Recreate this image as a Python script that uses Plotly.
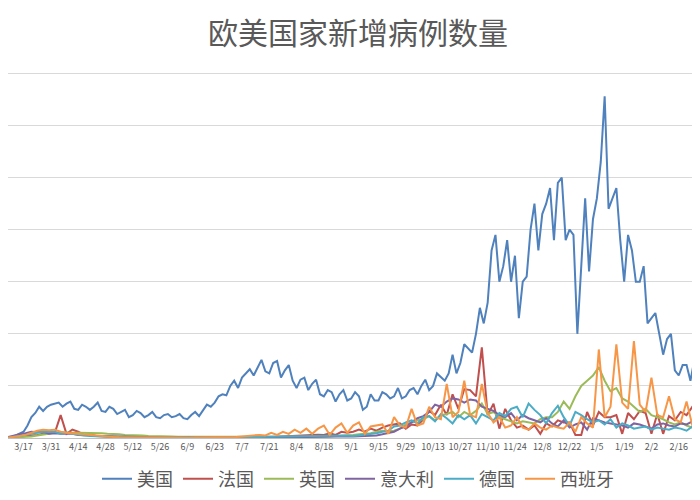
import pandas as pd
import plotly.graph_objects as go

# daily new cases, thousands; US sampled every 2 days, others every 3 days from 2020-03-09
us = [0.5, 1, 2.5, 4, 6, 12, 20, 24, 30, 26, 30, 32, 33, 34, 30, 33, 35, 28, 27, 32, 30, 27, 30, 34, 26, 25, 30, 28,
      23, 25, 27, 20, 22, 26, 24, 20, 22, 25, 20, 19, 22, 23, 20, 21, 23, 19, 18, 22, 25, 21, 26, 32, 30, 34, 40, 42,
      41, 50, 55, 48, 58, 62, 66, 60, 68, 75, 64, 62, 72, 74, 58, 65, 70, 55, 48, 56, 58, 46, 52, 56, 42, 40, 46, 44,
      35, 42, 46, 36, 38, 44, 40, 27, 30, 42, 36, 36, 44, 42, 38, 40, 48, 38, 40, 46, 48, 42, 50, 56, 46, 50, 62, 58,
      55, 62, 80, 62, 72, 90, 86, 82, 100, 125, 110, 130, 180, 195, 150, 165, 190, 150, 175, 115, 150, 155, 200, 225,
      180, 215, 225, 240, 190, 245, 250, 190, 200, 195, 100, 170, 230, 160, 210, 230, 265, 328, 220, 230, 240, 190,
      150, 195, 180, 150, 150, 165, 110, 115, 120, 100, 80, 95, 100, 65, 60, 70, 70, 55, 75, 75, 55, 50]
france = [0.3, 0.8, 1.2, 1.5, 1.8, 3, 4, 4.5, 5, 22, 4, 8, 6, 3, 3, 2, 2, 1.5, 1, 1, 1, 0.5, 0.8, 0.5, 0.5, 0.3, 0.5,
          1, 0.5, 0.6, 0.5, 0.5, 0.5, 0.4, 0.5, 0.5, 0.6, 0.5, 0.5, 0.6, 0.5, 0.7, 0.6, 0.8, 0.9, 1, 1.1, 1.3, 1.5, 1.6,
          2, 2.5, 2.8, 3.2, 3, 4.5, 3, 6, 5, 6, 8, 6, 9, 7, 10, 12, 13, 14, 9, 13, 12, 18, 26, 22, 32, 22, 42, 28, 47,
          46, 40, 87, 22, 33, 9, 28, 17, 10, 12, 8, 12, 4, 14, 11, 17, 15, 15, 3, 3, 25, 12, 25, 20, 20, 22, 4, 24, 18,
          26, 24, 4, 23, 4, 21, 17, 25, 22, 30, 25, 5]
uk = [0.1, 0.3, 0.5, 1, 1.5, 2.5, 3.5, 4.5, 5, 5.5, 5, 5, 5, 5, 4.5, 5, 4.5, 4, 4, 3.5, 3, 3, 2.5, 2.5, 2, 2, 1.7, 1.5,
      1.5, 1.2, 1.2, 1, 1, 0.9, 0.8, 0.8, 0.7, 0.7, 0.6, 0.6, 0.7, 0.6, 0.6, 0.7, 0.8, 0.8, 0.8, 0.9, 1, 1, 1, 1.2, 1.1,
      1.2, 1.3, 1.5, 1.7, 2, 2.5, 3, 3.5, 4, 4.5, 6, 7, 6.5, 7, 9, 13, 15, 17, 18, 21, 17, 22, 23, 25, 20, 25, 22, 26,
      33, 23, 25, 20, 18, 16, 14, 16, 15, 14, 18, 20, 20, 25, 35, 28, 40, 50, 55, 60, 68, 55, 45, 48, 38, 35, 30, 25,
      28, 22, 20, 18, 15, 13, 15, 12, 10, 9, 8]
italy = [1, 2.5, 3.5, 4.5, 6, 5.5, 6, 4, 4.5, 4, 4, 4, 3, 3, 2.7, 2.2, 2, 1.8, 1.4, 1.2, 1, 0.8, 0.7, 0.6, 0.5, 0.4,
         0.4, 0.3, 0.3, 0.3, 0.3, 0.2, 0.2, 0.2, 0.2, 0.2, 0.2, 0.2, 0.2, 0.2, 0.2, 0.3, 0.3, 0.3, 0.3, 0.4, 0.4, 0.4,
         0.5, 0.6, 0.8, 1, 1.2, 1.3, 1.4, 1.5, 1.5, 1.6, 1.7, 1.5, 1.6, 1.8, 2, 2.5, 3.5, 4.5, 6, 9, 11, 15, 19, 21,
         25, 32, 30, 35, 38, 37, 34, 37, 36, 30, 28, 26, 22, 20, 24, 17, 22, 19, 17, 15, 19, 14, 11, 17, 10, 13, 15, 8,
         19, 17, 15, 14, 13, 12, 10, 14, 13, 11, 9, 13, 14, 12, 11, 14, 13, 16, 20, 17]
germany = [0.5, 1, 2, 3, 4, 5, 6, 6, 6, 4, 5, 4, 3, 2.5, 2, 1.5, 1.5, 1.2, 1, 0.8, 0.8, 0.6, 0.6, 0.5, 0.4, 0.4, 0.4,
           0.3, 0.4, 0.5, 0.6, 0.5, 0.4, 0.4, 0.4, 0.4, 0.4, 0.5, 0.5, 0.6, 0.7, 0.8, 0.9, 1, 1.2, 1.3, 1.5, 1.4, 1.5,
           1.3, 1.5, 1.6, 1.8, 1.5, 1.8, 2, 2.2, 2, 2.5, 2, 2.5, 3, 4, 4.5, 6, 7, 11, 12, 15, 17, 14, 20, 21, 16, 23,
           19, 14, 22, 18, 22, 14, 23, 20, 17, 24, 21, 28, 30, 20, 33, 27, 22, 14, 24, 31, 20, 12, 25, 22, 18, 15, 17,
           13, 18, 10, 14, 12, 9, 10, 11, 8, 10, 9, 8, 10, 9, 7, 11, 10, 12]
spain = [0.3, 0.8, 2, 3, 5, 7, 8, 7.5, 8, 6, 5, 4.5, 4, 3, 2.5, 2, 1.5, 1, 1, 0.8, 0.7, 0.6, 0.5, 0.4, 0.4, 0.3, 0.3,
         0.3, 0.3, 0.3, 0.3, 0.3, 0.4, 0.4, 0.5, 0.5, 0.6, 0.7, 0.8, 1, 1.5, 1.8, 2, 3, 2.5, 5, 3, 6, 4, 8, 5, 9, 4, 9,
         12, 3, 10, 14, 5, 12, 15, 4, 11, 12, 13, 4, 20, 12, 10, 28, 12, 14, 30, 20, 18, 52, 20, 25, 55, 22, 20, 52,
         24, 15, 20, 10, 12, 20, 10, 8, 14, 10, 8, 12, 10, 9, 15, 6, 20, 14, 10, 85, 20, 30, 90, 34, 28, 93, 32, 25,
         58, 22, 20, 40, 18, 15, 35, 12, 10, 20, 8, 7]

series = [("美国", us, "2D", "#4F81BD"), ("法国", france, "3D", "#C0504D"), ("英国", uk, "3D", "#9BBB59"),
          ("意大利", italy, "3D", "#8064A2"), ("德国", germany, "3D", "#4BACC6"), ("西班牙", spain, "3D", "#F79646")]

fig = go.Figure()
for name, vals, step, color in series:
    dates = pd.date_range("2020-03-09", periods=len(vals), freq=step)
    fig.add_trace(go.Scatter(x=dates, y=[v * 1000 for v in vals], name=name, mode="lines",
                             line=dict(color=color, width=2)))

fig.update_layout(
    width=700, height=500, plot_bgcolor="white", paper_bgcolor="white",
    font=dict(family="Noto Sans CJK SC", color="#595959"),
    title=dict(text="欧美国家新增病例数量", x=0.5, xanchor="center", y=0.95, yanchor="middle",
               font=dict(size=30, color="#595959")),
    margin=dict(l=0, r=0, t=55, b=70, autoexpand=False),
    legend=dict(orientation="h", x=0.5, xanchor="center", y=-0.06, yanchor="top", font=dict(size=18)),
    showlegend=True,
)
fig.update_xaxes(range=["2020-03-09", "2021-03-03"], tick0="2020-03-17", dtick=14 * 86400000, tickformat="%-m/%-d",
                 tickfont=dict(size=9), showgrid=False, showline=True, linecolor="#BFBFBF", ticks="")
fig.update_yaxes(range=[0, 360000], dtick=50000, showticklabels=False, gridcolor="#D9D9D9", zeroline=False)
fig.write_html("out.html")
